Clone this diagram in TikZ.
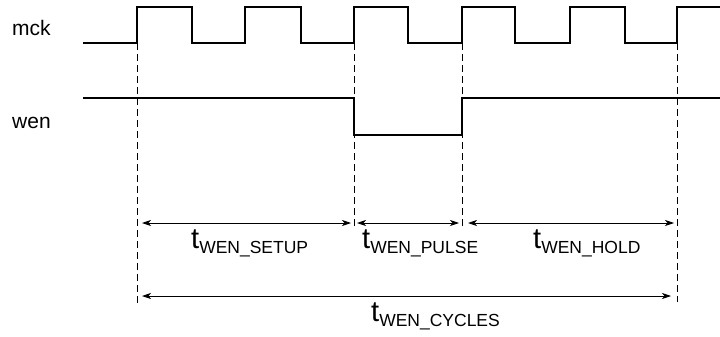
\documentclass[tikz,border=0pt]{standalone}
\usepackage{fontspec}
\setmainfont{Liberation Sans}
\usetikzlibrary{arrows.meta}
\tikzset{
  sig/.style={line width=1.5pt, line join=miter},
  guide/.style={line width=1pt, dash pattern=on 7pt off 4pt},
  dim/.style={line width=0.8pt, {Stealth[length=9pt,width=6pt,inset=2.5pt]}-{Stealth[length=9pt,width=6pt,inset=2.5pt]}},
  siglabel/.style={anchor=base west, inner sep=0pt, font=\fontsize{21}{21}\selectfont},
  tlabel/.style={anchor=base west, inner sep=0pt}
}
\newcommand{\tlab}[1]{{\fontsize{29}{29}\selectfont t}\raisebox{-5pt}{\fontsize{17.5}{17.5}\selectfont #1}}
\begin{document}
\begin{tikzpicture}[x=1pt,y=-1pt]
\useasboundingbox (0,0) rectangle (720,337);
% labels
\node[siglabel] (mck) at (12,36) {mck};
\node[siglabel] (wen) at (12,128) {wen};
% clock
\draw[sig] (83,43) -- (137,43) -- (137,7) -- (192,7) -- (192,43) -- (245,43) -- (245,7) -- (301,7) -- (301,43)
  -- (354,43) -- (354,7) -- (408,7) -- (408,43) -- (462,43) -- (462,7) -- (515,7) -- (515,43) -- (570,43)
  -- (570,7) -- (625,7) -- (625,43) -- (677,43) -- (677,7) -- (720,7);
% wen
\draw[sig] (83,98) -- (354,98) -- (354,135) -- (462,135) -- (462,98) -- (720,98);
% guides
\coordinate (g1t) at (137,43); \coordinate (g1b) at (137,303);
\coordinate (g2t) at (354,43); \coordinate (g2b) at (354,228);
\coordinate (g3t) at (462,43); \coordinate (g3b) at (462,228);
\coordinate (g4t) at (677,43); \coordinate (g4b) at (677,302);
\draw[guide] (g1t) -- (g1b);
\draw[guide] (g2t) -- (g2b);
\draw[guide] (g3t) -- (g3b);
\draw[guide] (g4t) -- (g4b);
% dimension arrows
\coordinate (a1) at (142,223); \coordinate (a2) at (351,223);
\coordinate (a3) at (357,223); \coordinate (a4) at (459,223);
\coordinate (a5) at (468,223); \coordinate (a6) at (674,223);
\coordinate (c1) at (142,296); \coordinate (c2) at (671,296);
\draw[dim] (a1) -- (a2);
\draw[dim] (a3) -- (a4);
\draw[dim] (a5) -- (a6);
\draw[dim] (c1) -- (c2);
% time labels
\node[tlabel] (tsetup) at (191,248) {\tlab{WEN\_SETUP}};
\node[tlabel] (tpulse) at (362,248) {\tlab{WEN\_PULSE}};
\node[tlabel] (thold) at (533,248) {\tlab{WEN\_HOLD}};
\node[tlabel] (tcyc) at (371,321) {\tlab{WEN\_CYCLES}};
\end{tikzpicture}
\end{document}
